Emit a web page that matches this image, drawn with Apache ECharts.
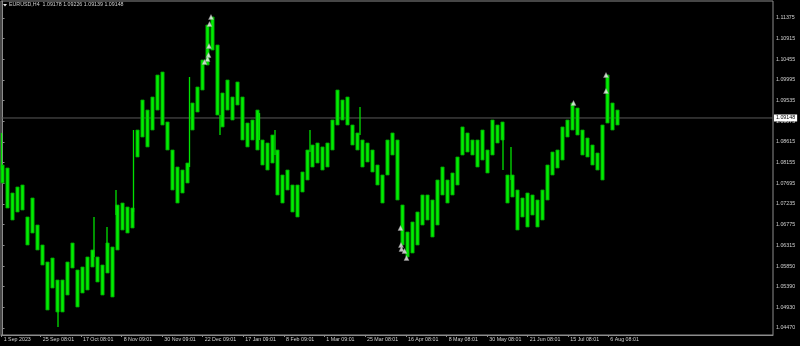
<!DOCTYPE html>
<html><head><meta charset="utf-8">
<script src="https://cdn.jsdelivr.net/npm/echarts@6/dist/echarts.min.js"></script>
<style>html,body{margin:0;padding:0;background:#000;}#c{width:800px;height:346px;}</style>
</head><body><div id="c"></div>
<script>
// Per-column (approx. 2 trading days each) main price band of EURUSD H4
const highs = [1.08101,1.08034,1.07477,1.07611,1.07655,1.06943,1.07366,1.06764,1.06319,1.05940,
1.06029,1.05539,1.05539,1.05940,1.06363,1.05762,1.05829,1.06052,1.06208,1.06052,
1.05873,1.06363,1.06274,1.07210,1.07254,1.07165,1.07143,1.08880,1.09549,1.09325,
1.09615,1.10105,1.10172,1.09059,1.08435,1.08056,1.07989,1.08145,1.09482,1.09838,
1.10440,1.11219,1.11397,1.10774,1.09705,1.09994,1.09615,1.09950,1.09615,1.09036,
1.09103,1.09325,1.08658,1.08591,1.08769,1.08435,1.07878,1.07989,1.07655,1.07655,
1.07945,1.08435,1.08546,1.08591,1.08503,1.08591,1.09103,1.09771,1.09549,1.09615,
1.08992,1.08814,1.08658,1.08591,1.08435,1.08101,1.07878,1.08658,1.08814,1.08658,
1.07210,1.06608,1.06831,1.07054,1.07433,1.07433,1.07321,1.07767,1.08056,1.07767,
1.07923,1.08279,1.08948,1.08814,1.08658,1.08658,1.08880,1.08435,1.09103,1.08992,
1.09059,1.07878,1.07878,1.07544,1.07366,1.07477,1.07433,1.07321,1.07544,1.08101,
1.08390,1.08435,1.08948,1.09103,1.09482,1.09370,1.08880,1.08702,1.08546,1.08368,
1.08992,1.10105,1.09482,1.09325];
const lows = [1.07700,1.07143,1.06876,1.07054,1.07098,1.06319,1.06586,1.06208,1.05873,1.04871,
1.05361,1.04827,1.04827,1.05205,1.05807,1.04938,1.05250,1.05317,1.05829,1.05495,
1.05205,1.05695,1.05161,1.06208,1.06653,1.06586,1.06698,1.08279,1.08724,1.08503,
1.08880,1.09325,1.08992,1.08435,1.07544,1.07254,1.07477,1.07700,1.08880,1.09281,
1.09771,1.10328,1.10662,1.09214,1.08948,1.09325,1.09103,1.09437,1.08658,1.08503,
1.08658,1.08435,1.08101,1.07989,1.08145,1.07433,1.07254,1.07544,1.07054,1.06943,
1.07499,1.07767,1.08056,1.08145,1.07989,1.08056,1.08435,1.08992,1.09103,1.08992,
1.08546,1.08435,1.08056,1.08168,1.07945,1.07655,1.07254,1.07878,1.08324,1.07321,
1.06319,1.06052,1.06141,1.06319,1.06764,1.06876,1.06497,1.06764,1.07433,1.07254,
1.07433,1.07655,1.08324,1.08390,1.08324,1.08056,1.08212,1.07923,1.08324,1.08591,
1.08658,1.07254,1.07388,1.06653,1.06943,1.06720,1.06987,1.06720,1.06876,1.07321,
1.07878,1.08034,1.08212,1.08724,1.08880,1.08769,1.08324,1.08279,1.08101,1.07989,
1.07767,1.09036,1.08880,1.08992];
// Single-bar spikes (column position, top price, bottom price)
const spikePos = [-0.2,11.1,18.3,20.9,22.7,26.2,37.4,43.5,51.4,54.5,61.5,71.5,100.1,101.7];
const spikeTop = [1.08814,1.04871,1.06943,1.06720,1.07544,1.08880,1.10061,1.09214,1.09259,1.08880,1.08880,1.09393,1.08724,1.08503];
const spikeBottom = [1.07989,1.04492,1.06052,1.06208,1.06987,1.07054,1.08056,1.08769,1.08658,1.08324,1.08390,1.08769,1.07989,1.07767];
// Arrow objects (column position, price)
const arrowPos = [41.7,41.4,41.3,41.2,41.0,40.4,79.6,79.7,79.8,80.4,80.8,114.2,120.7,120.7];
const arrowPrice = [1.11397,1.11241,1.10751,1.10551,1.10462,1.10395,1.06698,1.06319,1.06230,1.06186,1.06029,1.09482,1.10105,1.09749];
// Axis labels
const xTickPos = [-0.16,7.64,15.7,23.84,31.96,40.04,48.16,56.3,64.36,72.5,80.7,88.84,96.96,105.04,113.16,121.16];
const xTickLabels = ["1 Sep 2023","25 Sep 08:01","17 Oct 08:01","8 Nov 09:01","30 Nov 09:01","22 Dec 09:01","17 Jan 09:01","8 Feb 09:01","1 Mar 09:01","25 Mar 08:01","16 Apr 08:01","8 May 08:01","30 May 08:01","21 Jun 08:01","15 Jul 08:01","6 Aug 08:01"];
const yTicks = [1.04470,1.04930,1.05390,1.05850,1.06315,1.06775,1.07235,1.07695,1.08155,1.08615,1.09075,1.09535,1.09995,1.10455,1.10915,1.11375];
const lastPrice = 1.09148;
const headerText = "EURUSD,H4  1.09178 1.09226 1.09139 1.09148";

const X_MIN = -0.3, X_MAX = 154.1;
const chart = echarts.init(document.getElementById('c'), null, {renderer:'canvas'});
const fontF = '"Liberation Sans", Arial, sans-serif';
function barItem(widthPx, fill, stroke){
  return function(params,api){
    const x=api.value(0),hi=api.value(1),lo=api.value(2);
    const p1=api.coord([x,hi]),p2=api.coord([x,lo]);
    return {type:'rect',shape:{x:p1[0]-widthPx/2,y:p1[1],width:widthPx,height:Math.max(1,p2[1]-p1[1])},
      style:{fill:fill,stroke:stroke,lineWidth:stroke?0.8:0}};
  };
}
chart.setOption({
  backgroundColor:'#000',
  animation:false,
  grid:{left:1,right:27,top:1,bottom:11,show:true,borderColor:'#8c8c8c',borderWidth:1,backgroundColor:'#000'},
  graphic:[
    {type:'polygon',shape:{points:[[3,4],[7,4],[5,6.5]]},style:{fill:'#e8e8e8'}},
    {type:'text',left:9,top:2.5,style:{text:headerText,fill:'#d0d0d0',font:'5.3px '+fontF}}
  ],
  xAxis:{type:'value',min:X_MIN,max:X_MAX,
    axisLine:{show:true,lineStyle:{color:'#8c8c8c'}},
    axisTick:{show:true,length:2,lineStyle:{color:'#8c8c8c'},customValues:xTickPos},
    splitLine:{show:false},
    axisLabel:{customValues:xTickPos,color:'#d0d0d0',fontSize:5.3,fontFamily:'Liberation Sans',align:'left',margin:2,padding:[0,0,0,2],
      formatter:function(v){const i=xTickPos.indexOf(v);return i>=0?xTickLabels[i]:'';}}
  },
  yAxis:{type:'value',position:'right',min:1.04314,max:1.11754,
    axisLine:{show:true,lineStyle:{color:'#8c8c8c'}},
    axisTick:{show:true,length:2,lineStyle:{color:'#8c8c8c'},customValues:yTicks},
    splitLine:{show:false},
    axisLabel:{customValues:yTicks,color:'#d0d0d0',fontSize:5.3,fontFamily:'Liberation Sans',margin:3,
      formatter:function(v){return v.toFixed(5);}}
  },
  series:[
    {type:'line',data:[[X_MIN,lastPrice],[X_MAX,lastPrice]],symbol:'none',z:1,
     lineStyle:{color:'#5a5a5a',width:1},
     endLabel:{show:true,distance:1,formatter:function(){return lastPrice.toFixed(5);},
       backgroundColor:'#fff',color:'#000',fontSize:5.3,fontFamily:'Liberation Sans',padding:[1,2]}
    },
    {type:'custom',z:2,
     data:highs.map((h,i)=>[i,h,lows[i]]),
     encode:{x:0,y:[1,2]},
     renderItem:barItem(3.2,'#00ee00','#00a000')
    },
    {type:'custom',z:2,
     data:spikePos.map((x,i)=>[x,spikeTop[i],spikeBottom[i]]),
     encode:{x:0,y:[1,2]},
     renderItem:barItem(1.3,'#00e000',null)
    },
    {type:'scatter',data:arrowPos.map((x,i)=>[x,arrowPrice[i]]),symbol:'triangle',symbolSize:[5,5],
     itemStyle:{color:'#f4f4f4',borderColor:'#909090',borderWidth:0.5},z:5}
  ]
});
</script></body></html>
